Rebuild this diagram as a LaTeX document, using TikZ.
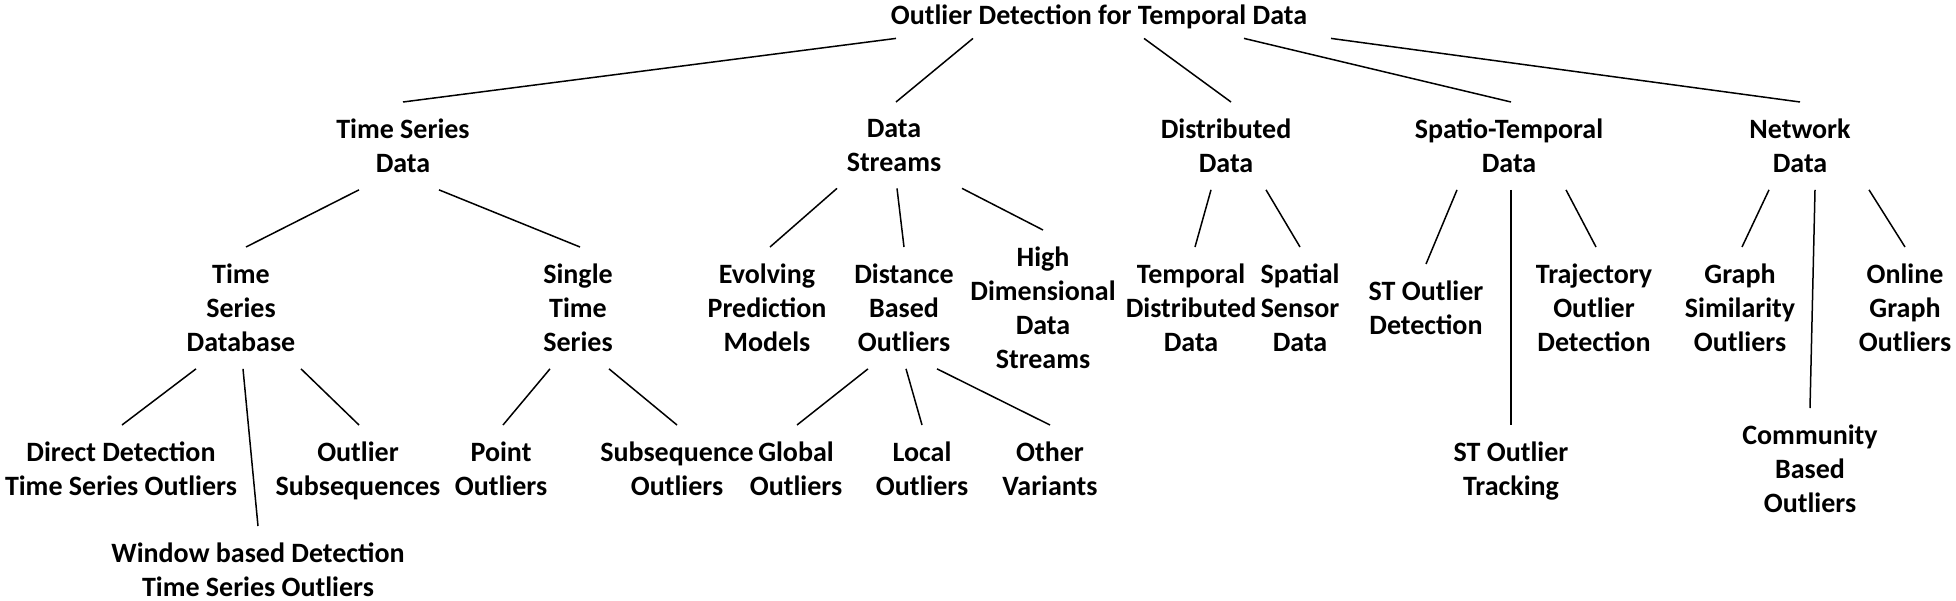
\documentclass[tikz,border=0pt]{standalone}
\usepackage{fontspec}
\setmainfont{Carlito}
\usepackage{tikz}
\tikzset{lbl/.style={anchor=north, align=center, inner sep=0pt, outer xsep=0pt, outer ysep=17pt,
    font=\bfseries\fontsize{28}{34}\selectfont}}
\begin{document}
\begin{tikzpicture}[x=1pt, y=-1pt, line width=1.5pt]
		\useasboundingbox (0,0) rectangle (1956,600);
		\node[lbl, anchor=base, outer ysep=10pt] (root) at (1099,24) {Outlier Detection for Temporal Data};
		
		\node[lbl] (ts) at (403,102) {Time Series\\Data};
		\node[lbl] (ds) at (894,102) {Data\\Streams};
		\node[lbl] (dd) at (1226,102) {Distributed\\Data};
		\node[lbl] (st) at (1509,102) {Spatio-Temporal\\Data};
		\node[lbl] (nd) at (1800,102) {Network\\Data};
		
		\node[lbl] (tsdb) at (241,247) {Time\\Series\\Database};
		\node[lbl] (sts) at (578,247) {Single\\Time\\Series};
		\node[lbl] (epm) at (767,247) {Evolving\\Prediction\\Models};
		\node[lbl] (dbo) at (904,247) {Distance\\Based\\Outliers};
		\node[lbl] (hdds) at (1043,230) {High\\Dimensional\\Data\\Streams};
		\node[lbl] (tdd) at (1191,247) {Temporal\\Distributed\\Data};
		\node[lbl] (ssd) at (1300,247) {Spatial\\Sensor\\Data};
		\node[lbl] (sto) at (1426,264) {ST Outlier\\Detection};
		\node[lbl] (tod) at (1594,247) {Trajectory\\Outlier\\Detection};
		\node[lbl] (gso) at (1740,247) {Graph\\Similarity\\Outliers};
		\node[lbl] (ogo) at (1905,247) {Online\\Graph\\Outliers};
		
		\node[lbl] (ddt) at (121,425) {Direct Detection\\Time Series Outliers};
		\node[lbl] (wbd) at (258,526) {Window based Detection\\Time Series Outliers};
		\node[lbl] (osq) at (358,425) {Outlier\\Subsequences};
		\node[lbl] (po) at (501,425) {Point\\Outliers};
		\node[lbl] (so) at (677,425) {Subsequence\\Outliers};
		\node[lbl] (go) at (796,425) {Global\\Outliers};
		\node[lbl] (lo) at (922,425) {Local\\Outliers};
		\node[lbl] (ov) at (1050,425) {Other\\Variants};
		\node[lbl] (stt) at (1511,425) {ST Outlier\\Tracking};
		\node[lbl] (cbo) at (1810,408) {Community\\Based\\Outliers};
		
		\draw ([xshift=-203pt]root.south) -- (ts.north);
		\draw ([xshift=-126pt]root.south) -- ([xshift=2pt]ds.north);
		\draw ([xshift=45pt]root.south) -- ([xshift=5pt]dd.north);
		\draw ([xshift=145pt]root.south) -- ([xshift=2pt]st.north);
		\draw ([xshift=232pt]root.south) -- (nd.north);
		
		\draw ([xshift=-44pt]ts.south) -- ([xshift=5pt]tsdb.north);
		\draw ([xshift=36pt]ts.south) -- ([xshift=2pt]sts.north);
		\draw ([xshift=-57pt]ds.south) -- ([xshift=3pt]epm.north);
		\draw ([xshift=3pt]ds.south) -- (dbo.north);
		\draw ([xshift=68pt]ds.south) -- (hdds.north);
		\draw ([xshift=-15pt]dd.south) -- ([xshift=4pt]tdd.north);
		\draw ([xshift=40pt]dd.south) -- (ssd.north);
		\draw ([xshift=-52pt]st.south) -- (sto.north);
		\draw ([xshift=2pt]st.south) -- (stt.north);
		\draw ([xshift=57pt]st.south) -- ([xshift=2pt]tod.north);
		\draw ([xshift=-31pt]nd.south) -- ([xshift=2pt]gso.north);
		\draw ([xshift=15pt]nd.south) -- (cbo.north);
		\draw ([xshift=69pt]nd.south) -- (ogo.north);
		
		\draw ([xshift=-45pt]tsdb.south) -- ([xshift=1pt]ddt.north);
		\draw ([xshift=2pt]tsdb.south) -- (wbd.north);
		\draw ([xshift=60pt]tsdb.south) -- ([xshift=1pt]osq.north);
		\draw ([xshift=-28pt]sts.south) -- ([xshift=2pt]po.north);
		\draw ([xshift=31pt]sts.south) -- (so.north);
		\draw ([xshift=-36pt]dbo.south) -- ([xshift=1pt]go.north);
		\draw ([xshift=2pt]dbo.south) -- (lo.north);
		\draw ([xshift=33pt]dbo.south) -- (ov.north);
\end{tikzpicture}
\end{document}
